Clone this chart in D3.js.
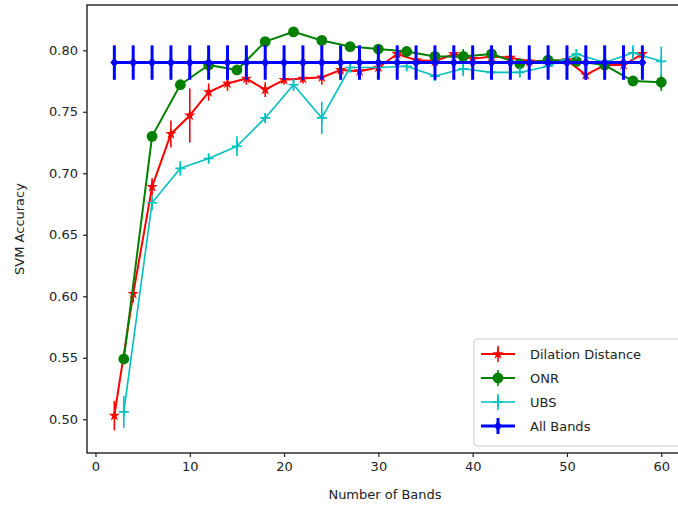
<!DOCTYPE html>
<html>
<head>
<meta charset="utf-8">
<script src="https://cdn.jsdelivr.net/npm/d3@7"></script>
<style>
  body { margin: 0; background: #fff; }
  svg { display: block; font-family: "DejaVu Sans", sans-serif; }
</style>
</head>
<body>
<svg id="chart" width="678" height="508"></svg>
<script>
// ---- Data ----
const bandsEven = [2,4,6,8,10,12,14,16,18,20,22,24,26,28,30,32,34,36,38,40,42,44,46,48,50,52,54,56,58];
const bandsThree = [3,6,9,12,15,18,21,24,27,30,33,36,39,42,45,48,51,54,57,60];

const dilationMean = [0.503,0.602,0.689,0.732,0.747,0.766,0.773,0.777,0.768,0.776,0.777,0.778,0.784,0.783,0.786,0.797,0.792,0.791,0.797,0.793,0.795,0.794,0.791,0.791,0.792,0.780,0.788,0.788,0.797];
const dilationStd  = [0.012,0.007,0.007,0.011,0.022,0.007,0.006,0.005,0.006,0.004,0.004,0.006,0.004,0.004,0.004,0.004,0.003,0.003,0.004,0.003,0.003,0.003,0.003,0.003,0.003,0.004,0.003,0.003,0.004];

const onrMean = [0.549,0.730,0.772,0.788,0.784,0.807,0.815,0.808,0.803,0.801,0.799,0.795,0.795,0.797,0.789,0.792,0.791,0.788,0.775,0.774];
const onrStd  = [0.004,0.004,0.004,0.003,0.003,0.003,0.003,0.003,0.003,0.003,0.003,0.003,0.006,0.003,0.003,0.003,0.003,0.003,0.004,0.007];

const ubsMean = [0.506,0.676,0.704,0.712,0.722,0.745,0.772,0.745,0.786,0.786,0.787,0.779,0.785,0.782,0.782,0.787,0.797,0.790,0.798,0.791];
const ubsStd  = [0.013,0.006,0.006,0.004,0.008,0.004,0.005,0.013,0.004,0.004,0.004,0.004,0.006,0.004,0.004,0.004,0.004,0.004,0.006,0.012];

const allBandsMean = bandsEven.map(() => 0.790);
const allBandsStd  = bandsEven.map(() => 0.014);

const xTicks = [0,10,20,30,40,50,60];
const yTicks = [0.50,0.55,0.60,0.65,0.70,0.75,0.80];

const seriesNames = ["Dilation Distance","ONR","UBS","All Bands"];
const seriesColors = ["#ff0000","#008000","#00bfbf","#0000ff"];

// ---- Setup ----
const svg = d3.select("#chart");
const pLeft = 87, pTop = 5, pBottom = 453, pRight = 688.6;

const x = d3.scaleLinear().domain([-0.9, 62.9]).range([pLeft, pRight]);
const y = d3.scaleLinear().domain([0.4726, 0.8368]).range([pBottom, pTop]);

const series = [
  {name: seriesNames[0], color: seriesColors[0], xs: bandsEven, m: dilationMean, s: dilationStd, lw: 2, elw: 1.6, marker: "star"},
  {name: seriesNames[1], color: seriesColors[1], xs: bandsThree, m: onrMean, s: onrStd, lw: 2, elw: 1.6, marker: "circle"},
  {name: seriesNames[2], color: seriesColors[2], xs: bandsThree, m: ubsMean, s: ubsStd, lw: 1.6, elw: 1.6, marker: "plus"},
  {name: seriesNames[3], color: seriesColors[3], xs: bandsEven, m: allBandsMean, s: allBandsStd, lw: 3, elw: 3, marker: "diamond"}
];

svg.append("defs").append("clipPath").attr("id","clip")
  .append("rect").attr("x", pLeft).attr("y", pTop).attr("width", pRight-pLeft).attr("height", pBottom-pTop);
const plot = svg.append("g").attr("clip-path","url(#clip)");

function drawMarker(g, type, color, cx, cy) {
  if (type === "circle") {
    g.append("circle").attr("cx", cx).attr("cy", cy).attr("r", 5.4).attr("fill", color);
  } else if (type === "plus") {
    g.append("path").attr("d", `M${cx-5},${cy}H${cx+5}M${cx},${cy-5}V${cy+5}`)
      .attr("stroke", color).attr("stroke-width", 1.6).attr("fill","none");
  } else if (type === "star") {
    g.append("path").attr("d", d3.symbol().type(d3.symbolStar).size(40)())
      .attr("transform", `translate(${cx},${cy})`).attr("fill", color);
  } else if (type === "diamond") {
    g.append("path").attr("d", `M${cx},${cy-5}L${cx+4},${cy}L${cx},${cy+5}L${cx-4},${cy}Z`)
      .attr("fill", color);
  }
}

series.forEach(sr => {
  const g = plot.append("g");
  const pts = sr.xs.map((v,i) => ({x: v, m: sr.m[i], s: sr.s[i]}));
  g.selectAll("line.err").data(pts).enter().append("line")
    .attr("x1", d => x(d.x)).attr("x2", d => x(d.x))
    .attr("y1", d => y(d.m - d.s)).attr("y2", d => y(d.m + d.s))
    .attr("stroke", sr.color).attr("stroke-width", sr.elw);
  g.append("path").datum(pts)
    .attr("d", d3.line().x(d => x(d.x)).y(d => y(d.m)))
    .attr("fill","none").attr("stroke", sr.color).attr("stroke-width", sr.lw)
    .attr("stroke-linejoin","round");
  pts.forEach(d => drawMarker(g, sr.marker, sr.color, x(d.x), y(d.m)));
});

// ---- Axes ----
const xAxis = d3.axisBottom(x).tickValues(xTicks).tickSize(4).tickPadding(5).tickFormat(d3.format("d"));
const yAxis = d3.axisLeft(y).tickValues(yTicks).tickSize(4).tickPadding(5).tickFormat(d3.format(".2f"));

const gx = svg.append("g").attr("transform", `translate(0,${pBottom})`).call(xAxis);
const gy = svg.append("g").attr("transform", `translate(${pLeft},0)`).call(yAxis);
[gx, gy].forEach(g => {
  g.select(".domain").remove();
  g.selectAll("text").attr("font-size", 13).attr("fill", "#222").attr("font-family", "DejaVu Sans, sans-serif");
  g.selectAll("line").attr("stroke", "#222").attr("stroke-width", 1.2);
});

svg.append("rect").attr("x", pLeft).attr("y", pTop).attr("width", pRight-pLeft).attr("height", pBottom-pTop)
  .attr("fill","none").attr("stroke","#222").attr("stroke-width", 1.4);

svg.append("text").attr("x", 385).attr("y", 499).attr("text-anchor","middle")
  .attr("font-size", 13).attr("fill","#222").text("Number of Bands");
svg.append("text").attr("transform", "translate(24,229) rotate(-90)").attr("text-anchor","middle")
  .attr("font-size", 13).attr("fill","#222").text("SVM Accuracy");

// ---- Legend ----
const lg = svg.append("g");
lg.append("rect").attr("x", 474).attr("y", 339).attr("width", 215).attr("height", 107)
  .attr("rx", 3).attr("fill","#fff").attr("fill-opacity", 0.85).attr("stroke","#ccc").attr("stroke-width", 1);
series.forEach((sr, i) => {
  const cy = 354 + i * 24;
  const hx1 = 481, hx2 = 515, hc = (hx1 + hx2) / 2;
  lg.append("line").attr("x1", hx1).attr("x2", hx2).attr("y1", cy).attr("y2", cy)
    .attr("stroke", sr.color).attr("stroke-width", sr.lw);
  lg.append("line").attr("x1", hc).attr("x2", hc).attr("y1", cy-8).attr("y2", cy+8)
    .attr("stroke", sr.color).attr("stroke-width", sr.elw);
  drawMarker(lg, sr.marker, sr.color, hc, cy);
  lg.append("text").attr("x", 530).attr("y", cy + 5).attr("font-size", 13).attr("fill","#222").text(sr.name);
});
</script>
</body>
</html>
